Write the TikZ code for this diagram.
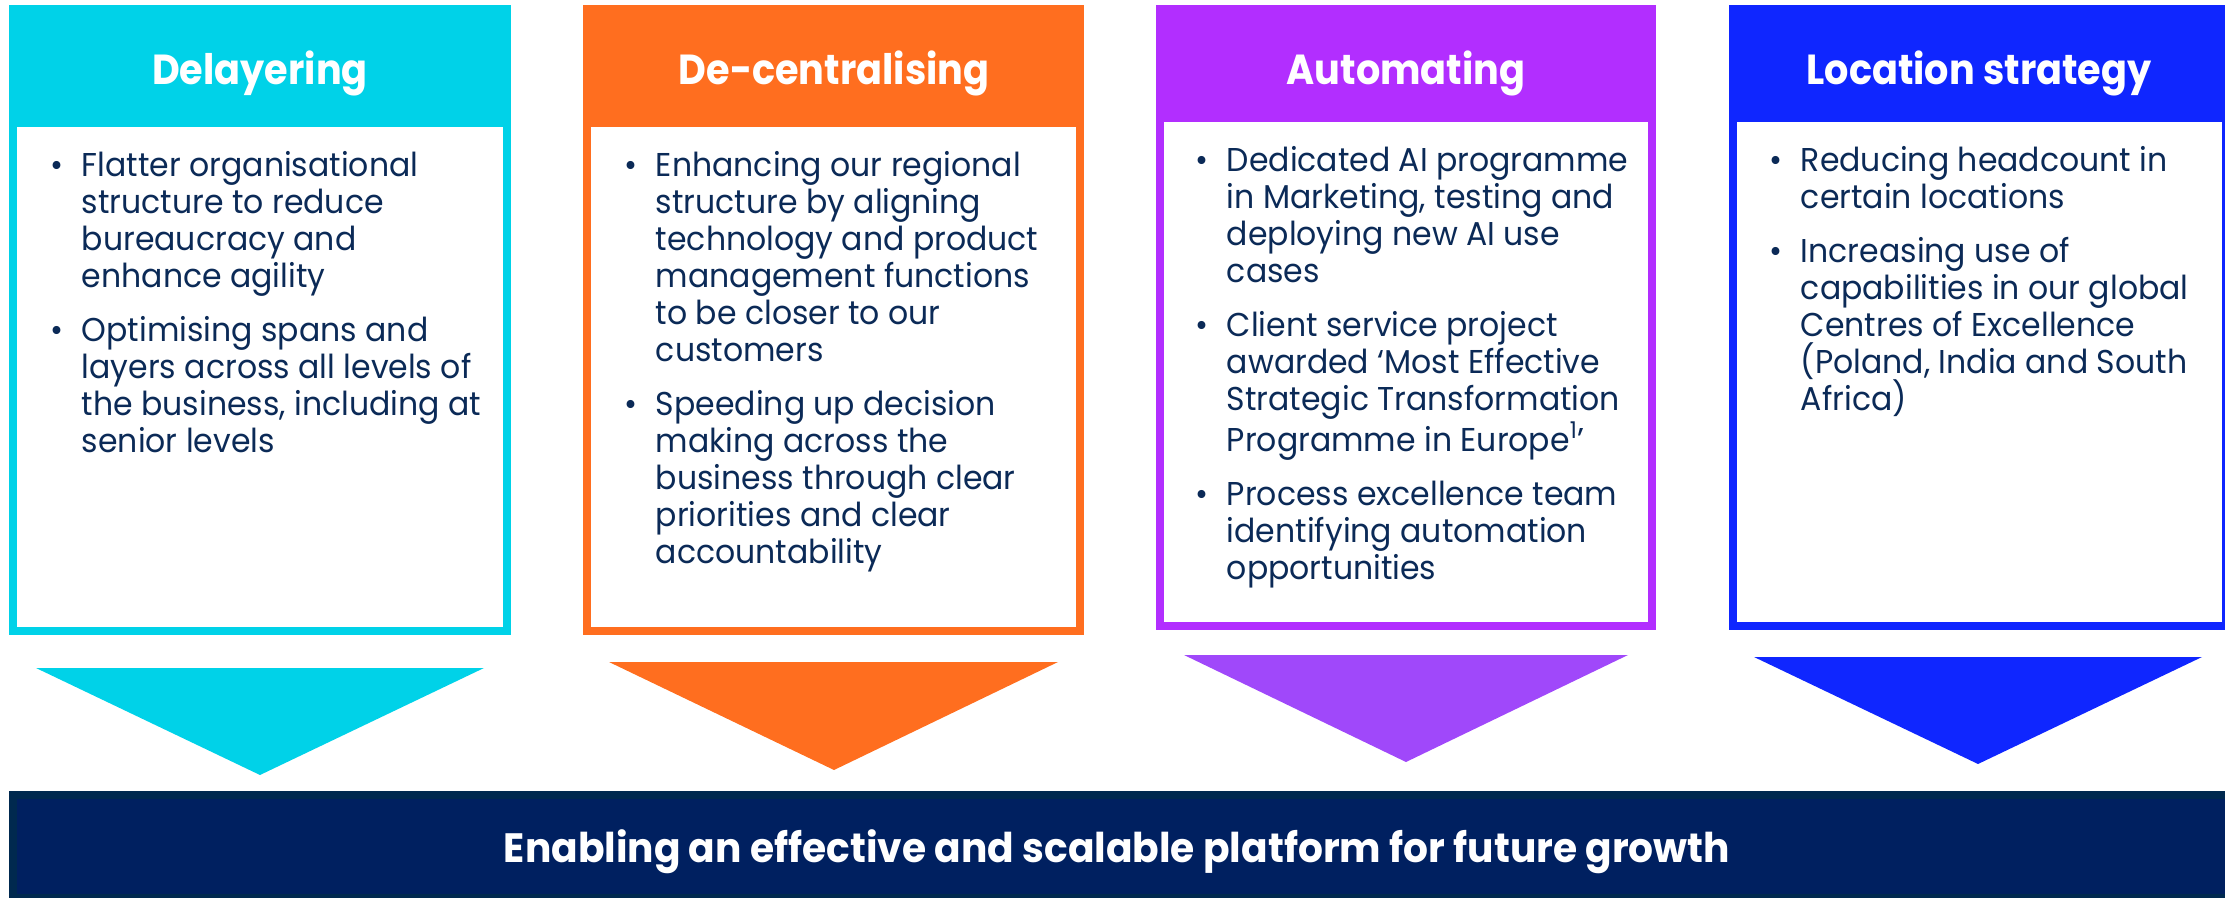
\documentclass[tikz,border=0pt]{standalone}
\usepackage{fontspec}
\setmainfont{Poppins}[FakeStretch=0.955]
\newfontfamily\headfont{Poppins}[FakeStretch=0.91]
\newfontfamily\goalfont{Poppins}[FakeStretch=0.955]

% palette
\definecolor{delayer}{HTML}{00D2E8}
\definecolor{decentral}{HTML}{FF6E1F}
\definecolor{automate}{HTML}{B22EFF}
\definecolor{automatetip}{HTML}{A048FA}
\definecolor{location}{HTML}{0F26FF}
\definecolor{goalfill}{HTML}{002060}
\definecolor{goaledge}{HTML}{00294F}
\definecolor{ink}{HTML}{0B2A57}

\newcommand\bulletitem[1]{\noindent\hangindent=15.75pt\hangafter=1
  \makebox[15.75pt][l]{•}#1\par}
\newcommand\itemgap{\vspace{8.5pt}}
\newcommand\bodytext[1]{\parbox[t]{250pt}{\parindent=0pt #1}}

\tikzset{
  heading/.style={anchor=base, inner sep=0pt, text=white,
    font=\headfont\fontsize{21pt}{24pt}\selectfont\bfseries},
  body/.style={anchor=base west, inner sep=0pt, text=ink,
    font=\fontsize{16.5pt}{18.5pt}\selectfont},
  goaltext/.style={anchor=base, inner sep=0pt, text=white,
    font=\goalfont\fontsize{20.5pt}{24pt}\selectfont\bfseries},
}

\begin{document}
\begin{tikzpicture}[x=0.5pt,y=-0.5pt]
\useasboundingbox (0,0) rectangle (2225,898);
\clip (0,0) rectangle (2225,898);

% panels: coloured frame with header band, white body
\fill[delayer]   (9,5.5)    rectangle (511,635);
\fill[white]     (17,127)   rectangle (503,627);
\fill[decentral] (583,5.5)  rectangle (1084,635);
\fill[white]     (591,127)  rectangle (1076,627);
\fill[automate]  (1156,5.5) rectangle (1656,630);
\fill[white]     (1164,122) rectangle (1648,622);
\fill[location]  (1729,5.5) rectangle (2230,630);
\fill[white]     (1737,122) rectangle (2222,622);

% headings
\node[heading] (h1) at (260,85)  {Delayering};
\node[heading] (h2) at (834,85)  {De-centralising};
\node[heading] (h3) at (1406,85) {Automating};
\node[heading] (h4) at (1979,85) {Location strategy};

% bullet lists
\node[body] (b1) at (50,177) {\bodytext{%
  \bulletitem{Flatter organisational\\structure to reduce\\bureaucracy and\\enhance agility}\itemgap
  \bulletitem{Optimising spans and\\layers across all levels of\\the business, including at\\senior levels}}};

\node[body] (b2) at (624,177) {\bodytext{%
  \bulletitem{Enhancing our regional\\structure by aligning\\technology and product\\management functions\\to be closer to our\\customers}\itemgap
  \bulletitem{Speeding up decision\\making across the\\business through clear\\priorities and clear\\accountability}}};

\node[body] (b3) at (1195,172) {\bodytext{%
  \bulletitem{Dedicated AI programme\\in Marketing, testing and\\deploying new AI use\\cases}\itemgap
  \bulletitem{Client service project\\awarded ‘Most Effective\\Strategic Transformation\\Programme in Europe\textsuperscript{1}’}\itemgap
  \bulletitem{Process excellence team\\identifying automation\\opportunities}}};

\node[body] (b4) at (1769,172) {\bodytext{%
  \bulletitem{Reducing headcount in\\certain locations}\itemgap
  \bulletitem{Increasing use of\\capabilities in our global\\Centres of Excellence\\(Poland, India and South\\Africa)}}};

% downward pointers
\fill[delayer]     (36,668)   -- (484,668)  -- (260,775)  -- cycle;
\fill[decentral]   (609,662)  -- (1058,662) -- (834,770)  -- cycle;
\fill[automatetip] (1184,655) -- (1628,655) -- (1406,762) -- cycle;
\fill[location]    (1754,657) -- (2202,657) -- (1978,764) -- cycle;

% goal bar
\fill[goaledge] (9,791)  rectangle (2240,898);
\fill[goalfill] (17,799) rectangle (2240,894);
\node[goaltext] (goal) at (1117,862)
  {Enabling an effective and scalable platform for future growth};
\end{tikzpicture}
\end{document}
